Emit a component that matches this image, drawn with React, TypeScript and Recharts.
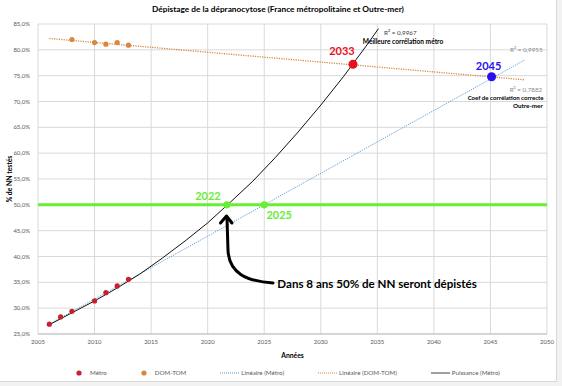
import React from "react";
import {
  ComposedChart,
  Line,
  Scatter,
  XAxis,
  YAxis,
  CartesianGrid,
  ReferenceLine,
  ReferenceDot,
  Legend,
} from "recharts";

// Métro : % de nouveau-nés testés
const metroYears = [2006, 2007, 2008, 2010, 2011, 2012, 2013];
const metroPct = [26.9, 28.3, 29.4, 31.4, 33.0, 34.3, 35.6];

// DOM-TOM
const domYears = [2008, 2010, 2011, 2012, 2013];
const domPct = [82.0, 81.4, 81.1, 81.4, 80.9];

// courbes de tendance
const linMetroYears = [2006, 2048];
const linMetroPct = [26.9, 78.0];
const linDomYears = [2006, 2048];
const linDomPct = [82.2, 74.2];
const powerYears = [2006, 2008, 2010, 2012, 2014, 2016, 2018, 2020, 2022, 2024, 2026, 2028, 2030, 2032, 2034, 2035.1];
const powerPct = [26.8, 29.1, 31.4, 33.9, 36.6, 39.7, 43.0, 46.5, 50.5, 54.6, 59.2, 64.1, 69.3, 74.8, 80.7, 84.1];

// croisements (50 % et courbes entre elles)
const crossYears = [2021.7, 2025, 2032.85, 2045.1];
const crossPct = [50, 50, 77.2, 74.8];
const crossLabels = ["2022", "2025", "2033", "2045"];

const xTicks = [2005, 2010, 2015, 2020, 2025, 2030, 2035, 2040, 2045, 2050];
const yTicks = [25, 30, 35, 40, 45, 50, 55, 60, 65, 70, 75, 80, 85];
const legendNames = ["Métro", "DOM-TOM", "Linéaire (Métro)", "Linéaire (DOM-TOM)", "Puissance (Métro)"];

const pts = (xs: number[], ys: number[]) => xs.map((year, i) => ({ year, pct: ys[i] }));

const RED = "#c8202e";
const ORANGE = "#d9873e";
const BLUE = "#5b9bd5";
const GREEN = "#66ee33";
const TICK = { fontSize: 6, fill: "#595959" };

const pctFmt = (v: number) => v.toFixed(1).replace(".", ",") + "%";

const pin =
  (color: string, label: string, dx: number, dy: number, r: number) =>
  (p: any) => (
    <g>
      <circle cx={p.cx} cy={p.cy} r={r} fill={color} />
      <text
        x={p.cx + dx}
        y={p.cy + dy}
        textAnchor="middle"
        dominantBaseline="central"
        fill={color}
        fontSize={11}
        fontWeight={700}
      >
        {label}
      </text>
    </g>
  );

const note =
  (text: string, opts: { size?: number; bold?: boolean; color?: string; anchor?: string }) =>
  (p: any) => (
    <text
      x={p.cx}
      y={p.cy}
      textAnchor={opts.anchor || "middle"}
      dominantBaseline="central"
      fontSize={opts.size || 6.3}
      fontWeight={opts.bold ? 700 : 400}
      fill={opts.color || "#000"}
    >
      {text}
    </text>
  );

// grosse flèche noire qui pointe vers 2022
const arrow = (p: any) => (
  <g transform={`translate(${p.cx},${p.cy})`} fill="none" stroke="#000" strokeWidth={3} strokeLinecap="round">
    <path d="M 47 68 C 20 66 3 58 2 35 L 1 3" />
    <path d="M -5.5 8 L 0.5 1 L 6 8" strokeLinejoin="round" />
  </g>
);

const LegendRow = () => (
  <div
    style={{
      display: "flex",
      justifyContent: "center",
      alignItems: "center",
      gap: 34,
      fontSize: 6.2,
      color: "#595959",
      paddingLeft: 20,
    }}
  >
    {legendNames.map((name, i) => (
      <div key={name} style={{ display: "flex", alignItems: "center", gap: i < 2 ? 8 : 2 }}>
        <svg width={i < 2 ? 6 : 19} height={6}>
          {i < 2 ? (
            <circle cx={3} cy={3} r={2.6} fill={i === 0 ? RED : ORANGE} />
          ) : (
            <line
              x1={0}
              x2={19}
              y1={3}
              y2={3}
              stroke={i === 2 ? BLUE : i === 3 ? ORANGE : "#404040"}
              strokeWidth={1}
              strokeDasharray={i === 4 ? undefined : "1 1"}
            />
          )}
        </svg>
        <span>{name}</span>
      </div>
    ))}
  </div>
);

export default function App() {
  return (
    <div style={{ position: "absolute", top: 0, left: 0, width: 562, height: 386, background: "#f2f2f2", fontFamily: "Lato, sans-serif" }}>
      <div
        style={{
          position: "relative",
          width: 556,
          height: 381,
          background: "#fff",
          borderRight: "1px solid #d9d9d9",
          borderBottom: "1px solid #d9d9d9",
          overflow: "hidden",
        }}
      >
        <div style={{ position: "absolute", top: 4, left: 0, width: 556, textAlign: "center", fontSize: 8.3, fontWeight: 700, color: "#000" }}>
          Dépistage de la dépranocytose (France métropolitaine et Outre-mer)
        </div>
        <ComposedChart width={556} height={381} margin={{ top: 24, right: 9, left: 2, bottom: 23 }}>
          <CartesianGrid stroke="#d9d9d9" />
          <XAxis
            type="number"
            dataKey="year"
            domain={[2005, 2050]}
            ticks={xTicks}
            tick={TICK}
            tickLine={false}
            tickSize={3}
            tickMargin={3}
            axisLine={{ stroke: "#bfbfbf" }}
            height={24}
            allowDataOverflow
            label={{ value: "Années", position: "insideBottom", offset: 0, fontSize: 6.8, fontWeight: 700, fill: "#000" }}
          />
          <YAxis
            type="number"
            dataKey="pct"
            domain={[25, 85]}
            ticks={yTicks}
            tick={TICK}
            tickFormatter={pctFmt}
            tickLine={false}
            axisLine={false}
            width={36}
            allowDataOverflow
            label={{
              value: "% de NN testés",
              angle: -90,
              position: "insideLeft",
              offset: 8,
              fontSize: 6.8,
              fontWeight: 700,
              fill: "#000",
              style: { textAnchor: "middle" },
            }}
          />
          <Line data={pts(linMetroYears, linMetroPct)} dataKey="pct" stroke={BLUE} strokeWidth={1} strokeDasharray="1.2 1.2" dot={false} activeDot={false} isAnimationActive={false} />
          <Line data={pts(linDomYears, linDomPct)} dataKey="pct" stroke={ORANGE} strokeWidth={1.3} strokeDasharray="1.2 1.2" dot={false} activeDot={false} isAnimationActive={false} />
          <Line data={pts(powerYears, powerPct)} dataKey="pct" stroke="#111" strokeWidth={1} dot={false} activeDot={false} isAnimationActive={false} />
          <ReferenceLine y={50} stroke={GREEN} strokeWidth={3} />
          <Scatter data={pts(metroYears, metroPct)} fill={RED} isAnimationActive={false} shape={(p: any) => <circle cx={p.cx} cy={p.cy} r={2.6} fill={RED} />} />
          <Scatter data={pts(domYears, domPct)} fill={ORANGE} isAnimationActive={false} shape={(p: any) => <circle cx={p.cx} cy={p.cy} r={2.6} fill={ORANGE} />} />

          <ReferenceDot x={crossYears[0]} y={crossPct[0]} shape={pin(GREEN, crossLabels[0], -19, -9, 3.6)} />
          <ReferenceDot x={crossYears[1]} y={crossPct[1]} shape={pin(GREEN, crossLabels[1], 15, 10, 3.6)} />
          <ReferenceDot x={crossYears[2]} y={crossPct[2]} shape={pin("#e8101e", crossLabels[2], -11, -14, 4.5)} />
          <ReferenceDot x={crossYears[3]} y={crossPct[3]} shape={pin("#2a10f0", crossLabels[3], -3, -11, 4.5)} />

          <ReferenceDot x={2035.59} y={83.45} shape={note("R² = 0,9967", { color: "#404040", anchor: "start" })} />
          <ReferenceDot x={2037.27} y={81.77} shape={note("Meilleure corrélation métro", { bold: true, size: 6.6 })} />
          <ReferenceDot x={2048.17} y={79.97} shape={note("R² = 0,9955", { color: "#8c8c8c" })} />
          <ReferenceDot x={2048.14} y={72.28} shape={note("R² = 0,7882", { color: "#8c8c8c" })} />
          <ReferenceDot x={2049.7} y={70.81} shape={note("Coef de corrélation correcte", { bold: true, anchor: "end", size: 6.1 })} />
          <ReferenceDot x={2048.31} y={69.32} shape={note("Outre-mer", { bold: true })} />
          <ReferenceDot x={2021.62} y={48.03} shape={arrow} />
          <ReferenceDot x={2026.16} y={34.68} shape={note("Dans 8 ans 50% de NN seront dépistés", { bold: true, size: 11.6, anchor: "start" })} />

          <Legend
            verticalAlign="middle"
            layout="horizontal"
            wrapperStyle={{ top: 369, left: 0, width: 556 }}
            content={() => <LegendRow />}
          />
        </ComposedChart>
      </div>
    </div>
  );
}
